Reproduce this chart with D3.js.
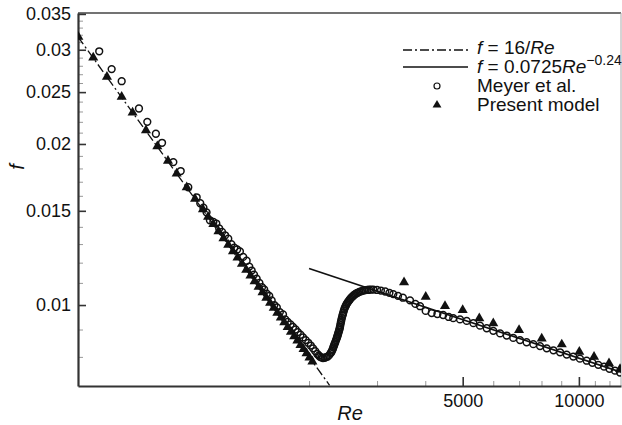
<!DOCTYPE html>
<html>
<head>
<meta charset="utf-8">
<script src="https://cdn.jsdelivr.net/npm/d3@7"></script>
<style>
body { margin: 0; background: #fff; }
svg text { font-family: "Liberation Sans", Arial, Helvetica, sans-serif; fill: #111; }
</style>
</head>
<body>
<script>
// Meyer et al. measurements (open circles)
var meyerRe = [572, 616, 654, 725, 762, 802, 832, 890, 930, 973, 1023, 1045, 1065, 1085, 1107, 1130,
  1150, 1170, 1190, 1212, 1235, 1258, 1280, 1302, 1324, 1350, 1378, 1400, 1420, 1440, 1463, 1487,
  1510, 1530, 1553, 1577, 1600, 1625, 1650, 1680, 1712, 1735, 1760, 1790, 1817, 1845, 1870, 1900,
  1929, 1960, 1990, 2020, 2048, 2075, 2100, 2120, 2135, 2155,
  2173, 2195, 2215, 2235, 2255, 2275, 2295, 2311, 2325, 2340, 2358, 2370, 2382, 2395, 2405, 2415,
  2425, 2440, 2453, 2470, 2490, 2510, 2535, 2560, 2590, 2620, 2657, 2700, 2750, 2800, 2860, 2934,
  3000, 3070, 3150, 3230, 3305, 3400, 3500, 3652,
  3770, 3877, 4010, 4156, 4300, 4450, 4600, 4726, 4920, 5121, 5330, 5543, 5770, 6001, 6250, 6501,
  6760, 7038, 7320, 7620, 7930, 8254, 8590, 8937, 9300, 9672, 10060, 10476, 10840, 11227, 11620,
  12000, 12400, 12781];
var meyerF = [0.0298, 0.0276, 0.0262, 0.0233, 0.0220, 0.0209, 0.0201, 0.0185, 0.0178, 0.0166, 0.0159,
  0.0155, 0.0152, 0.0149, 0.0144, 0.0143, 0.0142, 0.0139, 0.0137, 0.0135, 0.0133, 0.0130, 0.0128,
  0.0127, 0.0126, 0.0123, 0.0121, 0.0118, 0.0116, 0.0114, 0.0112, 0.0110, 0.0108, 0.0107, 0.0105,
  0.0104, 0.0102, 0.0100, 0.0099, 0.0097, 0.0096, 0.0094, 0.0093, 0.0092, 0.0091, 0.0090, 0.0089,
  0.0088, 0.0087, 0.0086, 0.0085, 0.0084, 0.0083, 0.0082, 0.0081, 0.00805, 0.0080, 0.00798,
  0.00796, 0.00797, 0.00799, 0.00801, 0.00806, 0.00813, 0.00822, 0.00833, 0.00843, 0.00853, 0.00866,
  0.00876, 0.00887, 0.00898, 0.0091, 0.00925, 0.00938, 0.00955, 0.00968, 0.00984, 0.00997, 0.01008,
  0.01018, 0.01028, 0.01037, 0.01045, 0.01052, 0.01058, 0.01063, 0.01066, 0.01068, 0.01069, 0.01067,
  0.01064, 0.0106, 0.01054, 0.01048, 0.01040, 0.01032, 0.01020,
  0.01005, 0.00995, 0.00975, 0.00966,
  0.00962, 0.00958, 0.00950, 0.00945, 0.00940, 0.00934, 0.00925, 0.00915, 0.00905, 0.00895, 0.00885,
  0.00877, 0.00868, 0.00860, 0.00852, 0.00845, 0.00838, 0.00830, 0.00823, 0.00816, 0.00808, 0.00801,
  0.00794, 0.00787, 0.00780, 0.00773, 0.00767, 0.00760, 0.00754, 0.00748];

// extra Meyer et al. points, dense transition branch
var meyerTransRe = [2285, 2303, 2318, 2332, 2349, 2364, 2376, 2388, 2400, 2410, 2420, 2432, 2447, 2461,
  2480, 2500, 2522, 2547, 2575, 2605, 2638, 2678, 2725, 2775, 2830, 2895];
var meyerTransF = [0.00817, 0.00827, 0.00838, 0.00848, 0.0086, 0.00871, 0.00881, 0.00892, 0.00904,
  0.00917, 0.00931, 0.00946, 0.00961, 0.00976, 0.00991, 0.01003, 0.01013, 0.01023, 0.01033, 0.01041,
  0.01049, 0.01055, 0.01061, 0.01065, 0.01067, 0.01069];

// present model (filled triangles)
var modelRe = [505, 552, 599, 654, 698, 756, 809, 862, 908, 964, 1013, 1062, 1095, 1130, 1165, 1200,
  1235, 1270, 1305, 1340, 1375, 1410, 1445, 1480, 1515, 1550, 1585, 1620, 1655, 1690, 1725, 1760,
  1795, 1830, 1865, 1900, 1935, 1970, 2005, 2040,
  3524, 4011, 4499, 5000, 5521, 6001, 6998, 8011, 9028, 10025, 10945, 11967, 12781];
var modelF = [0.0317, 0.0290, 0.0267, 0.0245, 0.0229, 0.0212, 0.0198, 0.0186, 0.0176, 0.0166, 0.0158,
  0.0151, 0.01461, 0.01416, 0.01373, 0.01333, 0.01296, 0.01260, 0.01226, 0.01194, 0.01164, 0.01135,
  0.01107, 0.01081, 0.01056, 0.01032, 0.01009, 0.00988, 0.00967, 0.00947, 0.00928, 0.00909, 0.00891,
  0.00874, 0.00858, 0.00842, 0.00827, 0.00812, 0.00798, 0.00784,
  0.01103, 0.01036, 0.00996, 0.00979, 0.00944, 0.00924, 0.00898, 0.00866, 0.00844, 0.00818, 0.00800,
  0.00778, 0.00759];

// reference lines, end points
var lamRe = [504, 2260];
var lamF = [0.0317, 0.00708];
var turbRe = [2000, 12855];
var turbF = [0.0117, 0.00749];

var yMajor = [0.01, 0.015, 0.02, 0.025, 0.03, 0.035];
var yMinor = [0.008, 0.009, 0.011, 0.012, 0.013, 0.014, 0.016, 0.017, 0.018, 0.019, 0.021, 0.022,
  0.023, 0.024, 0.026, 0.027, 0.028, 0.029, 0.031, 0.032, 0.033, 0.034];
var xMajor = [5000, 10000];
var xMinor = [2000, 3000, 4000, 6000, 7000, 8000, 9000, 11000, 12000];

var W = 622, H = 425;
var L = 78, R = 621, T = 13, B = 386;

var svg = d3.select("body").append("svg")
  .attr("width", W)
  .attr("height", H);

var x = d3.scaleLog().domain([504, 12855]).range([L, R]);
var y = d3.scaleLog().domain([0.007058, 0.03514]).range([B, T]);

svg.append("clipPath").attr("id", "clip")
  .append("rect").attr("x", L).attr("y", T).attr("width", R - L).attr("height", B - T);

// frame top / right
svg.append("line").attr("x1", L).attr("x2", R).attr("y1", T).attr("y2", T)
  .attr("stroke", "#444").attr("stroke-width", 1.6);
svg.append("line").attr("x1", R).attr("x2", R).attr("y1", T).attr("y2", B)
  .attr("stroke", "#aaa").attr("stroke-width", 1);

// minor ticks
var yMin = svg.append("g").attr("transform", "translate(" + L + ",0)")
  .call(d3.axisLeft(y).tickValues(yMinor).tickSize(-5).tickSizeOuter(0).tickFormat(""));
var xMin = svg.append("g").attr("transform", "translate(0," + B + ")")
  .call(d3.axisBottom(x).tickValues(xMinor).tickSize(-5).tickSizeOuter(0).tickFormat(""));
[yMin, xMin].forEach(function (g) {
  g.select(".domain").remove();
  g.selectAll(".tick line").attr("stroke", "#999").attr("stroke-width", 1);
});

// major axes
var yAx = svg.append("g").attr("transform", "translate(" + L + ",0)")
  .call(d3.axisLeft(y).tickValues(yMajor).tickSize(-8).tickSizeOuter(0).tickPadding(7)
    .tickFormat(function (d) { return String(+d.toFixed(3)); }));
var xAx = svg.append("g").attr("transform", "translate(0," + B + ")")
  .call(d3.axisBottom(x).tickValues(xMajor).tickSize(-9).tickSizeOuter(0).tickPadding(8)
    .tickFormat(d3.format("d")));
[yAx, xAx].forEach(function (g) {
  g.select(".domain").attr("stroke", "#333").attr("stroke-width", 2.2);
  g.selectAll(".tick line").attr("stroke", "#333").attr("stroke-width", 1.6);
  g.selectAll(".tick text").style("font-size", "18px")
    .style("font-family", "'Liberation Sans', Arial, sans-serif").attr("fill", "#111");
});

// axis titles
svg.append("text").attr("x", 350).attr("y", 420)
  .attr("text-anchor", "middle").style("font-size", "20px").style("font-style", "italic")
  .text("Re");
svg.append("text").attr("transform", "translate(24,167) rotate(-90)")
  .attr("text-anchor", "middle").style("font-size", "20px").style("font-style", "italic")
  .text("f");

var plot = svg.append("g").attr("clip-path", "url(#clip)");
var line = d3.line().x(function (d) { return x(d[0]); }).y(function (d) { return y(d[1]); });

plot.append("path").datum(d3.zip(lamRe, lamF)).attr("d", line)
  .attr("fill", "none").attr("stroke", "#111").attr("stroke-width", 1.3)
  .attr("stroke-dasharray", "9,3,2,3");
plot.append("path").datum(d3.zip(turbRe, turbF)).attr("d", line)
  .attr("fill", "none").attr("stroke", "#111").attr("stroke-width", 1.6);

var meyer = d3.zip(meyerRe, meyerF).concat(d3.zip(meyerTransRe, meyerTransF));
plot.selectAll("circle.meyer").data(meyer).enter()
  .append("circle").attr("class", "meyer")
  .attr("cx", function (d) { return x(d[0]); })
  .attr("cy", function (d) { return y(d[1]); })
  .attr("r", 3.4).attr("fill", "none").attr("stroke", "#111").attr("stroke-width", 1.5);

var tri = d3.symbol(d3.symbolTriangle).size(44);
plot.selectAll("path.model").data(d3.zip(modelRe, modelF)).enter()
  .append("path").attr("class", "model")
  .attr("transform", function (d) { return "translate(" + x(d[0]) + "," + y(d[1]) + ")"; })
  .attr("d", tri).attr("fill", "#111");

// legend
var lg = svg.append("g").style("font-size", "19px");
lg.append("line").attr("x1", 403).attr("x2", 468).attr("y1", 50).attr("y2", 50)
  .attr("stroke", "#111").attr("stroke-width", 1.3).attr("stroke-dasharray", "9,3,2,3");
lg.append("line").attr("x1", 403).attr("x2", 468).attr("y1", 67).attr("y2", 67)
  .attr("stroke", "#111").attr("stroke-width", 1.6);
lg.append("circle").attr("cx", 437).attr("cy", 86).attr("r", 3)
  .attr("fill", "#fff").attr("stroke", "#111").attr("stroke-width", 1.2);
lg.append("path").attr("transform", "translate(437,105)")
  .attr("d", d3.symbol(d3.symbolTriangle).size(34)).attr("fill", "#111");

var t1 = lg.append("text").attr("x", 477).attr("y", 54);
t1.append("tspan").style("font-style", "italic").text("f");
t1.append("tspan").text(" = 16/");
t1.append("tspan").style("font-style", "italic").text("Re");

var t2 = lg.append("text").attr("x", 477).attr("y", 73);
t2.append("tspan").style("font-style", "italic").text("f");
t2.append("tspan").text(" = 0.0725");
t2.append("tspan").style("font-style", "italic").text("Re");
t2.append("tspan").attr("dy", -8).style("font-size", "14px").text("\u22120.24");

lg.append("text").attr("x", 477).attr("y", 92).text("Meyer et al.");
lg.append("text").attr("x", 477).attr("y", 111).text("Present model");
</script>
</body>
</html>
